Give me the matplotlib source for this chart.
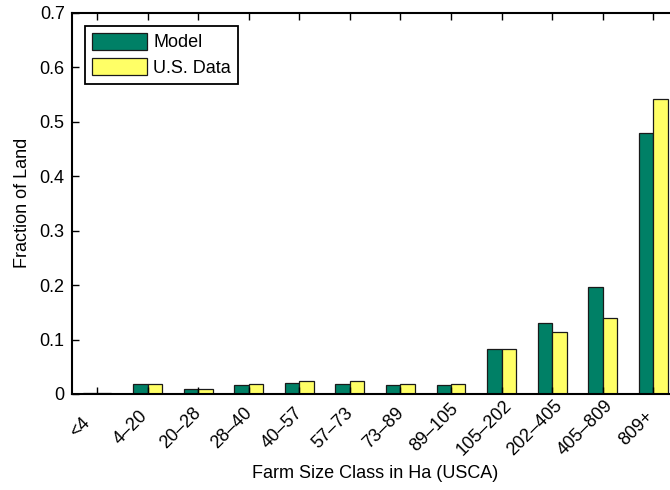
"""Land share by farm size class: model vs U.S. data."""
import matplotlib; matplotlib.use('Agg')
import matplotlib.pyplot as plt
import matplotlib.transforms as mtransforms
import numpy as np

plt.rcParams.update({'font.family': 'Liberation Sans', 'font.size': 13})

classes = ['<4', '4–20', '20–28', '28–40', '40–57', '57–73', '73–89',
           '89–105', '105–202', '202–405', '405–809', '809+']
model = [0.002, 0.018, 0.010, 0.016, 0.020, 0.018, 0.017, 0.016, 0.082, 0.131, 0.197, 0.480]
us_data = [0.002, 0.018, 0.010, 0.018, 0.023, 0.024, 0.019, 0.018, 0.083, 0.113, 0.139, 0.542]

C_MODEL, C_DATA = '#008066', '#ffff66'

fig = plt.figure(figsize=(6.7, 4.9), dpi=100)
ax = fig.add_axes([0.107, 0.196, 0.906, 0.778])

x = np.arange(1, len(classes) + 1)
w = 0.285
ax.bar(x - w/2, model, w, color=C_MODEL, edgecolor='#1a1a1a', linewidth=0.9, label='Model')
ax.bar(x + w/2, us_data, w, color=C_DATA, edgecolor='#1a1a1a', linewidth=0.9, label='U.S. Data')

ax.set_xlim(0.5, 12.5)
ax.set_ylim(0, 0.7)
ax.set_yticks(np.arange(0, 0.71, 0.1))
ax.set_yticklabels(['0', '0.1', '0.2', '0.3', '0.4', '0.5', '0.6', '0.7'])
ax.set_xticks(x)
ax.set_xticklabels(classes, rotation=45, ha='center', va='center', rotation_mode='anchor')
ax.tick_params(direction='in', length=5, width=1.0, top=True, right=True, pad=5)
ax.tick_params(axis='x', pad=0)
# rotated labels sit centred below-left of their ticks
shift = mtransforms.ScaledTranslation(-17/100, -34/100, fig.dpi_scale_trans)
for lbl in ax.get_xticklabels():
    lbl.set_transform(lbl.get_transform() + shift)
for s in ax.spines.values():
    s.set_linewidth(1.5)

ax.set_xlabel('Farm Size Class in Ha (USCA)')
ax.xaxis.set_label_coords(0.5, -0.187)
ax.set_ylabel('Fraction of Land', labelpad=6)

leg = ax.legend(loc='upper left', bbox_to_anchor=(0.022, 0.966), handlelength=3.05,
                handleheight=1.05, handletextpad=0.33, borderpad=0.4, labelspacing=0.38,
                fancybox=False, framealpha=1, edgecolor='black', borderaxespad=0)
leg.get_frame().set_linewidth(1.3)

fig.savefig('out.png', dpi=100)
